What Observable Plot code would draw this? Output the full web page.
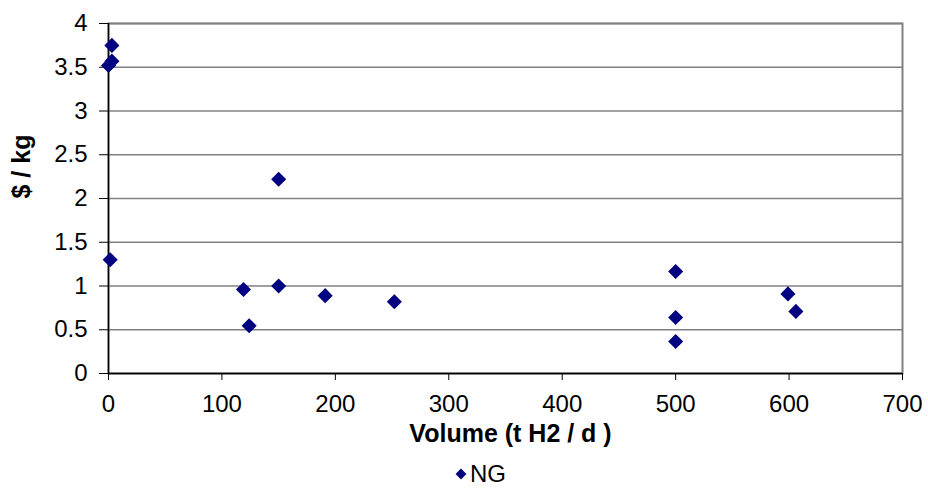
<!DOCTYPE html>
<html>
<head>
<meta charset="utf-8">
<script src="https://cdn.jsdelivr.net/npm/d3@7"></script>
<script src="https://cdn.jsdelivr.net/npm/@observablehq/plot@0.6"></script>
<style>
  html, body { margin: 0; padding: 0; background: #fff; }
  #chart { width: 928px; height: 460px; }
  #legend { position: relative; height: 28px; font-family: "Liberation Sans", Arial, sans-serif; font-size: 24px; color: #000; }
  #legend .item { position: absolute; left: 455px; top: 0; height: 28px; display: flex; align-items: center; }
  #legend svg { margin-right: 3px; }
</style>
</head>
<body>
<div id="chart"></div>
<script>
// Data
const seriesName = "NG";
const volume = [0, 3, 3, 1.5, 150, 119, 150, 124, 191, 252, 500, 500, 500, 599, 606];
const cost   = [3.52, 3.57, 3.75, 1.30, 2.22, 0.96, 1.00, 0.545, 0.89, 0.82, 1.165, 0.64, 0.365, 0.91, 0.71];
const xTicks = [0, 100, 200, 300, 400, 500, 600, 700];
const yTicks = [0, 0.5, 1, 1.5, 2, 2.5, 3, 3.5, 4];
const xLabel = "Volume (t H2 / d )";
const yLabel = "$ / kg";

const data = volume.map((v, i) => ({volume: v, cost: cost[i]}));
const font = "'Liberation Sans', Arial, sans-serif";
const navy = "#000080";

const chart = Plot.plot({
  width: 928,
  height: 460,
  marginLeft: 108,
  marginRight: 26,
  marginTop: 23,
  marginBottom: 87,
  style: {fontFamily: font, fontSize: "24px", color: "#000", background: "#fff"},
  x: {domain: [0, 700], ticks: xTicks},
  y: {domain: [0, 4], ticks: yTicks},
  marks: [
    Plot.gridY(yTicks, {stroke: "#808080", strokeOpacity: 1, strokeWidth: 1.5}),
    Plot.frame({stroke: "#808080", strokeWidth: 2}),
    Plot.ruleX([0], {stroke: "#000", strokeWidth: 1.5}),
    Plot.ruleY([0], {stroke: "#000", strokeWidth: 1.5}),
    Plot.axisX({ticks: xTicks, tickSize: 7, tickPadding: 14, label: null, fontSize: 24, stroke: "#000", tickFormat: d => String(d)}),
    Plot.axisY({ticks: yTicks, tickSize: 9, tickPadding: 12, label: null, fontSize: 24, stroke: "#000", tickFormat: d => String(d)}),
    Plot.text([xLabel], {frameAnchor: "bottom", dy: 68, dx: 5, fontWeight: "bold", fontSize: 25, text: d => d}),
    Plot.text([yLabel], {frameAnchor: "left", dx: -87, rotate: -90, fontWeight: "bold", fontSize: 25, text: d => d}),
    Plot.dot(data, {x: "volume", y: "cost", symbol: "diamond2", r: 6.8, fill: navy, stroke: "none"})
  ]
});
document.getElementById("chart").appendChild(chart);

// Legend below the chart
const legend = document.createElement("div");
legend.id = "legend";
const item = document.createElement("div");
item.className = "item";
const sym = d3.create("svg").attr("width", 12).attr("height", 12);
sym.append("path")
  .attr("transform", "translate(6,6)")
  .attr("d", d3.symbol(d3.symbolDiamond2, 75)())
  .attr("fill", navy);
item.appendChild(sym.node());
const lbl = document.createElement("span");
lbl.textContent = seriesName;
item.appendChild(lbl);
legend.appendChild(item);
document.body.appendChild(legend);
</script>
</body>
</html>
